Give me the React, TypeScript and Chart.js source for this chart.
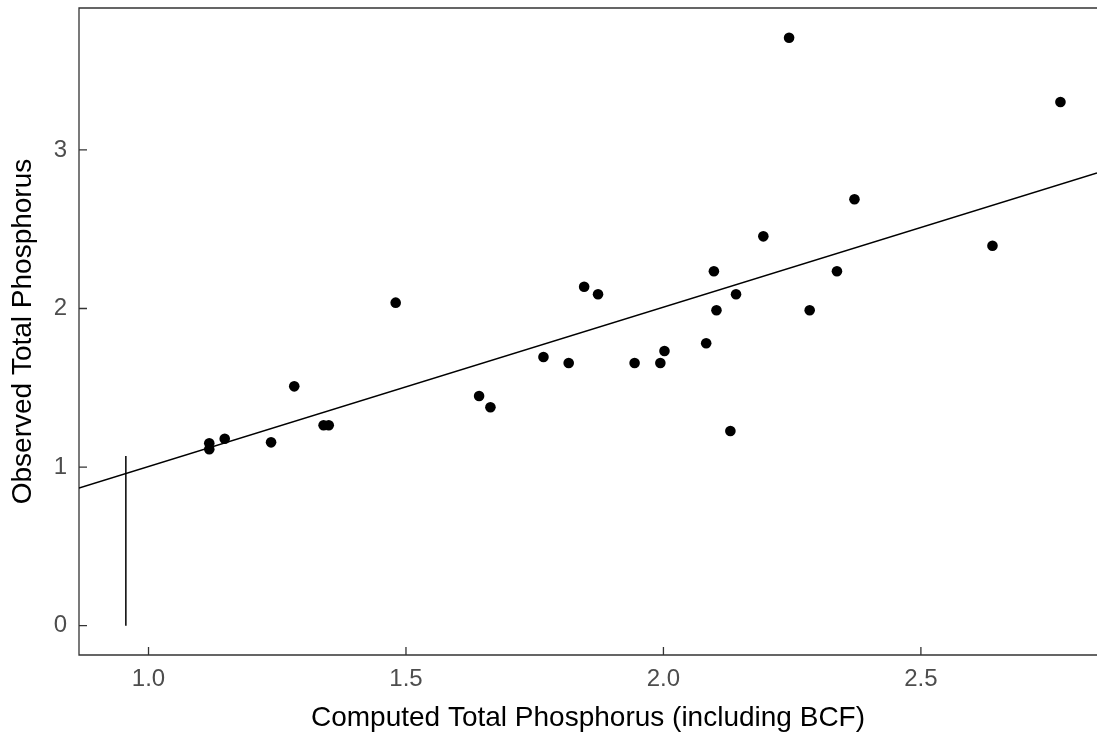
import React, { useEffect, useRef } from 'react';
import { Chart, registerables } from 'chart.js';

Chart.register(...registerables);

// Scatter data: computed vs observed total phosphorus
const computedTP = [1.118, 1.118, 1.148, 1.238, 1.283, 1.34, 1.35, 1.48, 1.642, 1.664, 1.767, 1.816, 1.846, 1.873, 1.944, 1.994, 2.002, 2.083, 2.098, 2.103, 2.13, 2.141, 2.194, 2.244, 2.284, 2.337, 2.371, 2.639, 2.771];
const observedTP = [1.15, 1.112, 1.179, 1.156, 1.509, 1.264, 1.264, 2.037, 1.448, 1.377, 1.694, 1.656, 2.137, 2.09, 1.656, 1.656, 1.732, 1.781, 2.235, 1.989, 1.228, 2.09, 2.455, 3.707, 1.989, 2.235, 2.689, 2.396, 3.302];

// Fitted line endpoints
const fitX = [0.865, 2.842];
const fitY = [0.868, 2.854];

// Vertical reference segment
const segX = [0.956, 0.956];
const segY = [0, 1.07];

// Axes
const xTickValues = [1.0, 1.5, 2.0, 2.5];
const xTickLabels = ['1.0', '1.5', '2.0', '2.5'];
const yTickValues = [0, 1, 2, 3];
const yTickLabels = ['0', '1', '2', '3'];
const xRange = [0.865, 2.842];
const yRange = [-0.185, 3.895];

const xTitle = 'Computed Total Phosphorus (including BCF)';
const yTitle = 'Observed Total Phosphorus';

const FONT = '"Liberation Sans", Arial, Helvetica, sans-serif';

const framePlugin = {
  id: 'frame',
  beforeDatasetsDraw(chart: any) {
    const { ctx, chartArea, scales } = chart;
    const { left, right, top, bottom } = chartArea;
    ctx.save();
    ctx.strokeStyle = '#333333';
    ctx.lineWidth = 1.3;
    ctx.beginPath();
    ctx.moveTo(right, top);
    ctx.lineTo(left, top);
    ctx.lineTo(left, bottom);
    ctx.lineTo(right, bottom);
    xTickValues.forEach((v) => {
      const px = scales.x.getPixelForValue(v);
      ctx.moveTo(px, bottom);
      ctx.lineTo(px, bottom - 8);
    });
    yTickValues.forEach((v) => {
      const py = scales.y.getPixelForValue(v);
      ctx.moveTo(left, py);
      ctx.lineTo(left + 8, py);
    });
    ctx.stroke();
    ctx.restore();
  },
};

const zeroPadding = (s: any) => {
  s.paddingTop = 0;
  s.paddingBottom = 0;
  s.paddingLeft = 0;
  s.paddingRight = 0;
};

export default function App() {
  const ref = useRef<HTMLCanvasElement | null>(null);

  useEffect(() => {
    document.body.style.margin = '0';
    const canvas = ref.current;
    if (!canvas) return;
    const points = computedTP.map((x, i) => ({ x, y: observedTP[i] }));
    const fit = fitX.map((x, i) => ({ x, y: fitY[i] }));
    const seg = segX.map((x, i) => ({ x, y: segY[i] }));

    const chart = new Chart(canvas, {
      type: 'scatter',
      data: {
        datasets: [
          {
            data: points,
            backgroundColor: '#000000',
            borderWidth: 0,
            pointRadius: 5.3,
            pointHoverRadius: 5.3,
          },
          {
            data: fit,
            showLine: true,
            borderColor: '#000000',
            borderWidth: 1.5,
            pointRadius: 0,
            pointHoverRadius: 0,
          },
          {
            data: seg,
            showLine: true,
            borderColor: '#000000',
            borderWidth: 1.5,
            pointRadius: 0,
            pointHoverRadius: 0,
          },
        ],
      },
      options: {
        responsive: false,
        animation: false,
        devicePixelRatio: 1,
        layout: { autoPadding: false, padding: { top: 8, right: 0, left: 0, bottom: 0 } },
        plugins: {
          legend: { display: false },
          tooltip: { enabled: false },
        },
        scales: {
          x: {
            type: 'linear',
            min: xRange[0],
            max: xRange[1],
            afterFit: (s: any) => {
              s.height = 87;
              zeroPadding(s);
            },
            afterBuildTicks: (s: any) => {
              s.ticks = xTickValues.map((v) => ({ value: v }));
            },
            grid: { display: false, drawTicks: false },
            border: { display: false },
            ticks: {
              padding: 10,
              color: '#4D4D4D',
              font: { family: FONT, size: 24 },
              callback: (v: any) => {
                const i = xTickValues.indexOf(Number(v));
                return i >= 0 ? xTickLabels[i] : '';
              },
            },
            title: {
              display: true,
              text: xTitle,
              color: '#000000',
              font: { family: FONT, size: 28 },
              padding: { top: 0, bottom: 7 },
            },
          },
          y: {
            type: 'linear',
            min: yRange[0],
            max: yRange[1],
            afterFit: (s: any) => {
              s.width = 79;
              zeroPadding(s);
            },
            afterBuildTicks: (s: any) => {
              s.ticks = yTickValues.map((v) => ({ value: v }));
            },
            grid: { display: false, drawTicks: false },
            border: { display: false },
            ticks: {
              padding: 12,
              color: '#4D4D4D',
              font: { family: FONT, size: 24 },
              callback: (v: any) => {
                const i = yTickValues.indexOf(Number(v));
                return i >= 0 ? yTickLabels[i] : '';
              },
            },
            title: {
              display: true,
              text: yTitle,
              color: '#000000',
              font: { family: FONT, size: 28 },
              padding: { top: 6, bottom: 0 },
            },
          },
        },
      },
      plugins: [framePlugin],
    });
    return () => chart.destroy();
  }, []);

  return (
    <canvas
      ref={ref}
      width={1097}
      height={742}
      style={{ display: 'block', width: '1097px', height: '742px' }}
    />
  );
}
